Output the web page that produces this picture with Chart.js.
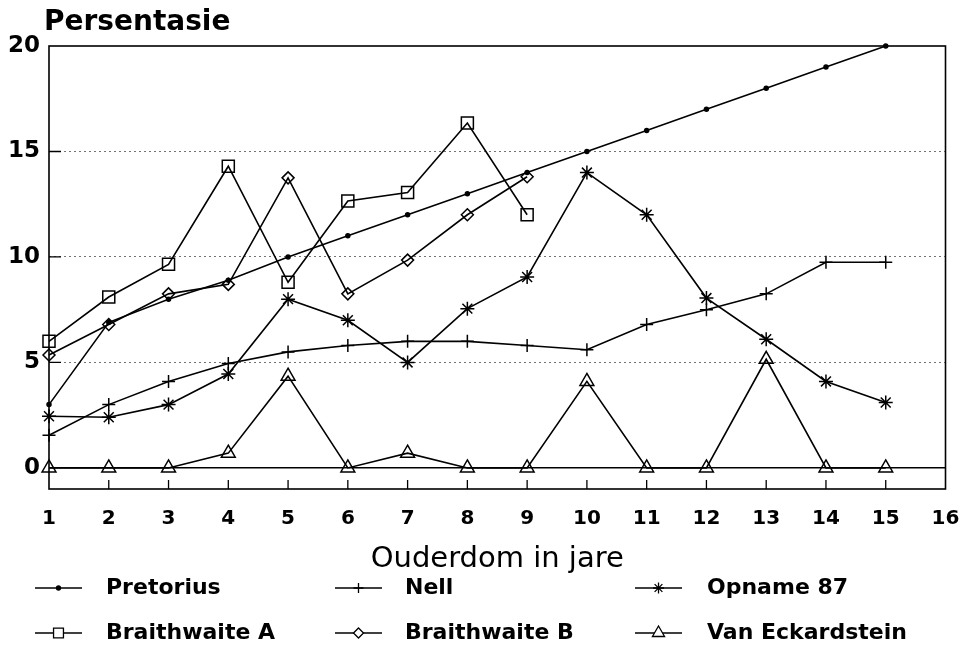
<!DOCTYPE html>
<html>
<head>
<meta charset="utf-8">
<script src="https://cdn.jsdelivr.net/npm/chart.js@4/dist/chart.umd.min.js"></script>
<style>
  html, body { margin: 0; padding: 0; background: #fff; }
  #wrap { width: 960px; height: 653px; }
</style>
</head>
<body>
<div id="wrap"><canvas id="ouderdomChart" width="960" height="653"></canvas></div>
<script>
// Data (x = ouderdom in jare, y = persentasie)
const ages = [1, 2, 3, 4, 5, 6, 7, 8, 9, 10, 11, 12, 13, 14, 15];
const pretorius = [3.0, 6.9, 8.0, 8.9, 10, 11, 12, 13, 14, 15, 16, 17, 18, 19, 20];
const nell = [1.55, 3.0, 4.1, 4.95, 5.5, 5.8, 6.0, 6.0, 5.8, 5.6, 6.8, 7.5, 8.25, 9.75, 9.75];
const opname87 = [2.45, 2.4, 3.0, 4.45, 8.0, 7.0, 5.0, 7.55, 9.05, 14.0, 12.0, 8.05, 6.1, 4.1, 3.1];
const braithwaiteA = [6.0, 8.1, 9.65, 14.3, 8.8, 12.65, 13.05, 16.35, 12.0];
const braithwaiteB = [5.35, 6.8, 8.25, 8.7, 13.75, 8.25, 9.85, 12.0, 13.8];
const vanEckardstein = [0, 0, 0, 0.7, 4.35, 0, 0.7, 0, 0, 4.1, 0, 0, 5.15, 0, 0];

const seriesNames = ["Pretorius", "Nell", "Opname 87", "Braithwaite A", "Braithwaite B", "Van Eckardstein"];
const yTickValues = [0, 5, 10, 15, 20];
const yTitle = "Persentasie";
const xTitle = "Ouderdom in jare";

Chart.defaults.font.family = "'DejaVu Sans', sans-serif";
Chart.defaults.color = "#000";

function toPoints(values) {
  return values.map((v, i) => ({ x: ages[i], y: v }));
}

function lineSet(label, values, style, radius, filled) {
  return {
    label: label,
    data: toPoints(values),
    borderColor: "#000",
    borderWidth: 1.6,
    pointStyle: style,
    pointRadius: radius,
    pointHoverRadius: radius,
    pointBorderColor: "#000",
    pointBorderWidth: 1.5,
    pointBackgroundColor: filled ? "#000" : "rgba(0,0,0,0)",
    tension: 0,
    fill: false,
    clip: false
  };
}

// legend marker sizes (smaller than in the plot)
const legendRadius = [2, 5, 5.5, 7, 5, 7];

// frame, inward tick marks, the y title at top-left and the legend grid
const decorPlugin = {
  id: "decor",
  afterDraw(chart) {
    const ctx = chart.ctx;
    const area = chart.chartArea;
    const xs = chart.scales.x;
    const ys = chart.scales.y;
    ctx.save();
    ctx.strokeStyle = "#000";
    ctx.lineWidth = 1.6;
    ctx.strokeRect(area.left, area.top, area.right - area.left, area.bottom - area.top);

    ctx.lineWidth = 1.3;
    ctx.beginPath();
    xs.ticks.forEach(t => {
      if (t.value <= xs.min || t.value >= xs.max) return;
      const px = xs.getPixelForValue(t.value);
      ctx.moveTo(px, area.bottom);
      ctx.lineTo(px, area.bottom - 9);
    });
    ys.ticks.forEach(t => {
      if (t.value <= 0 || t.value >= ys.max) return;
      const py = ys.getPixelForValue(t.value);
      ctx.moveTo(area.left, py);
      ctx.lineTo(area.left + 12, py);
    });
    ctx.stroke();

    ctx.fillStyle = "#000";
    ctx.font = "bold 28px 'DejaVu Sans'";
    ctx.textBaseline = "middle";
    ctx.textAlign = "left";
    ctx.fillText(yTitle, area.left - 5, 23);

    // legend: 3 columns x 2 rows
    const colLine = [35, 335, 635];
    const colText = [106, 405, 707];
    const rowY = [588, 633];
    ctx.font = "bold 22px 'DejaVu Sans'";
    chart.data.datasets.forEach((ds, i) => {
      const col = i % 3;
      const y = rowY[Math.floor(i / 3)];
      const x0 = colLine[col];
      const x1 = x0 + 47;
      ctx.strokeStyle = "#000";
      ctx.lineWidth = 1.3;
      ctx.beginPath();
      ctx.moveTo(x0, y);
      ctx.lineTo(x1, y);
      ctx.stroke();
      ctx.fillStyle = ds.pointBackgroundColor === "#000" ? "#000" : "#fff";
      Chart.helpers.drawPoint(ctx, {
        pointStyle: ds.pointStyle,
        radius: legendRadius[i],
        rotation: 0,
        borderWidth: 1.3
      }, (x0 + x1) / 2, y);
      ctx.fillStyle = "#000";
      ctx.fillText(ds.label, colText[col], y);
    });
    ctx.restore();
  }
};

new Chart(document.getElementById("ouderdomChart"), {
  type: "line",
  data: {
    datasets: [
      lineSet(seriesNames[0], pretorius, "circle", 2, true),
      lineSet(seriesNames[1], nell, "cross", 6.5, false),
      lineSet(seriesNames[2], opname87, "star", 7, false),
      lineSet(seriesNames[3], braithwaiteA, "rect", 8.5, false),
      lineSet(seriesNames[4], braithwaiteB, "rectRot", 6, false),
      lineSet(seriesNames[5], vanEckardstein, "triangle", 8, false)
    ]
  },
  options: {
    responsive: false,
    animation: false,
    layout: { padding: { left: 0, right: 0, top: 46, bottom: 76 } },
    plugins: {
      legend: { display: false },
      tooltip: { enabled: false },
      title: { display: false }
    },
    scales: {
      x: {
        type: "linear",
        min: 1,
        max: 16,
        afterFit: axis => {
          axis.height = 88;
          axis.paddingLeft = 0;
          axis.paddingRight = 14.5;
        },
        ticks: { stepSize: 1, padding: 18, font: { size: 20, weight: "bold" } },
        grid: { display: false, drawTicks: false },
        border: { display: false },
        title: {
          display: true,
          text: xTitle,
          font: { size: 29 },
          padding: { top: 0, bottom: 0 }
        }
      },
      y: {
        min: -1,
        max: 20,
        afterBuildTicks: axis => { axis.ticks = yTickValues.map(v => ({ value: v })); },
        afterFit: axis => { axis.width = 49; },
        ticks: { padding: 9, font: { size: 23, weight: "bold" } },
        grid: {
          drawTicks: false,
          lineWidth: c => (c.tick && c.tick.value === 0 ? 1.4 : 1),
          color: c => {
            if (!c.tick) return "rgba(0,0,0,0.55)";
            if (c.tick.value === 20) return "rgba(0,0,0,0)";
            return c.tick.value === 0 ? "#000" : "rgba(0,0,0,0.55)";
          }
        },
        border: {
          display: false,
          dash: c => (c.tick && c.tick.value === 0 ? [] : [2, 3])
        }
      }
    }
  },
  plugins: [decorPlugin]
});
</script>
</body>
</html>
